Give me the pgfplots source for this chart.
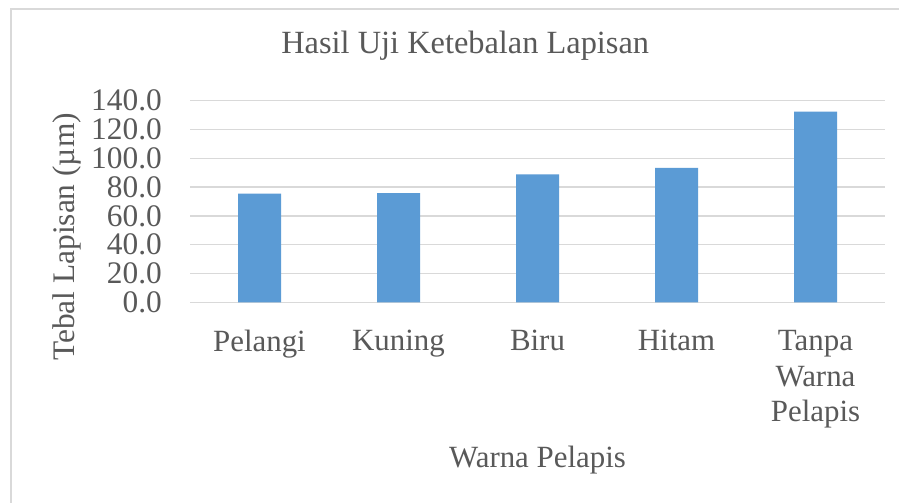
\documentclass[border=0pt]{standalone}
\usepackage{fontspec}
\setmainfont{Liberation Serif}
\usepackage{pgfplots}
\pgfplotsset{compat=1.18}
\definecolor{barblue}{HTML}{5B9BD5}
\definecolor{txt}{HTML}{595959}
\definecolor{gridc}{HTML}{D9D9D9}
\begin{document}
\begin{tikzpicture}
\path[use as bounding box] (0,0) rectangle (899bp,503bp);
\fill[white] (0,0) rectangle (899bp,503bp);
\draw[gridc, line width=1.5bp] (11bp,0) -- (11bp,494bp) -- (899bp,494bp);
\begin{axis}[
  at={(190bp,200.7bp)}, anchor=south west,
  scale only axis, width=695bp, height=201.6bp,
  xmin=-0.5, xmax=4.5, ymin=0, ymax=140,
  ytick={0,20,...,140},
  xtick={0,1,2,3,4},
  xticklabels={Pelangi,Kuning,Biru,Hitam,{Tanpa\\Warna\\Pelapis}},
  major tick length=0pt,
  axis line style={draw=none},
  ymajorgrids,
  grid style={gridc, line width=1.3bp},
  /pgf/number format/.cd, fixed, fixed zerofill, precision=1, assume math mode=true,
  /pgfplots/.cd,
  tick label style={font=\fontsize{31.5}{35.5}\selectfont, text=txt, inner sep=0pt},
  yticklabel style={anchor=east, xshift=-28bp},
  xticklabel style={anchor=north, yshift=-28bp, align=center, font=\fontsize{31}{35.5}\selectfont},
  title={Hasil Uji Ketebalan Lapisan},
  title style={at={(axis description cs:0.396,1.202)}, anchor=base, font=\fontsize{32.5}{36}\selectfont, text=txt, inner sep=0pt},
  xlabel={Warna Pelapis},
  xlabel style={at={(axis description cs:0.5,-0.817)}, anchor=base, font=\fontsize{31}{36}\selectfont, text=txt, inner sep=0pt},
  ylabel={Tebal Lapisan (µm)},
  ylabel style={at={(axis description cs:-0.177,0.324)}, anchor=center, font=\fontsize{31.5}{36}\selectfont, text=txt, inner sep=0pt},
  clip=false,
]
\addplot[ybar, bar width=43bp, fill=barblue, draw=none] coordinates {(0,75.5) (1,75.9) (2,88.9) (3,93.3) (4,132.4)};
\end{axis}
\end{tikzpicture}
\end{document}
